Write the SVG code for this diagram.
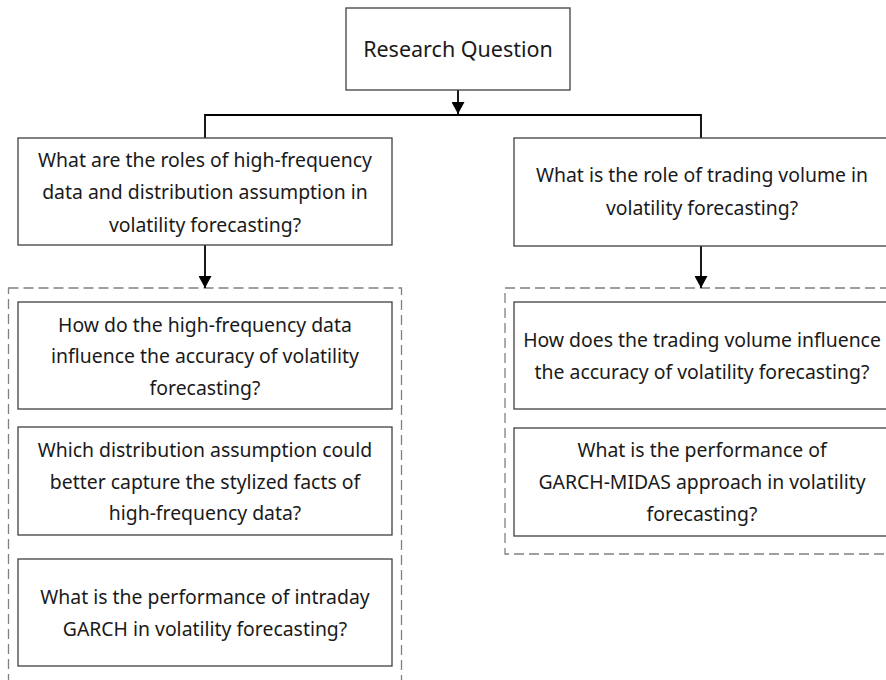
<svg xmlns="http://www.w3.org/2000/svg" width="886" height="680" viewBox="0 0 886 680">
  <style>
    .box { fill: #ffffff; stroke: #404040; stroke-width: 1.3; }
    .group { fill: none; stroke: #808080; stroke-width: 1.3; stroke-dasharray: 10 5; }
    .link { fill: none; stroke: #000000; stroke-width: 1.8; }
    .t { font-family: "Noto Sans", "Open Sans", "DejaVu Sans", sans-serif; font-size: 19.4px; fill: #1a1a1a; text-anchor: middle; }
    .title { font-size: 21.5px; }
  </style>
  <defs>
    <marker id="arrow" viewBox="0 0 12 13" refX="12" refY="6.5" markerWidth="12" markerHeight="13" markerUnits="userSpaceOnUse" orient="auto">
      <path d="M0,0 L12,6.5 L0,13 Z" fill="#000000"/>
    </marker>
  </defs>
  <rect width="886" height="680" fill="#ffffff"/>

  <!-- dashed groupings -->
  <g id="group-left">
    <rect class="group" x="8.5" y="288" width="393" height="420"/>
  </g>
  <g id="group-right">
    <rect class="group" x="505" y="288" width="394" height="266"/>
  </g>

  <!-- connectors -->
  <g id="connectors">
    <path class="link" d="M205,138 V115 H701 V138"/>
    <line class="link" x1="458" y1="90" x2="458" y2="114" marker-end="url(#arrow)"/>
    <line class="link" x1="205" y1="245" x2="205" y2="288" marker-end="url(#arrow)"/>
    <line class="link" x1="701" y1="246" x2="701" y2="288" marker-end="url(#arrow)"/>
  </g>

  <g id="research-question">
    <rect class="box" x="346" y="8" width="224" height="82"/>
    <text class="t title" x="458" y="57">Research Question</text>
  </g>

  <g id="q-hf-distribution">
    <rect class="box" x="18" y="138" width="374" height="107"/>
    <text class="t" x="205" y="166.5">What are the roles of high-frequency</text>
    <text class="t" x="205" y="199">data and distribution assumption in</text>
    <text class="t" x="205" y="231.5">volatility forecasting?</text>
  </g>

  <g id="q-trading-volume">
    <rect class="box" x="514" y="138" width="374" height="108"/>
    <text class="t" x="702" y="181.5">What is the role of trading volume in</text>
    <text class="t" x="702" y="214.5">volatility forecasting?</text>
  </g>

  <g id="q-hf-accuracy">
    <rect class="box" x="18" y="302" width="374" height="107"/>
    <text class="t" x="205" y="331.5">How do the high-frequency data</text>
    <text class="t" x="205" y="363">influence the accuracy of volatility</text>
    <text class="t" x="205" y="395">forecasting?</text>
  </g>

  <g id="q-distribution">
    <rect class="box" x="18" y="427" width="374" height="108"/>
    <text class="t" x="205" y="456.5">Which distribution assumption could</text>
    <text class="t" x="205" y="488.5">better capture the stylized facts of</text>
    <text class="t" x="205" y="520">high-frequency data?</text>
  </g>

  <g id="q-intraday-garch">
    <rect class="box" x="18" y="559" width="374" height="107"/>
    <text class="t" x="205" y="603.5">What is the performance of intraday</text>
    <text class="t" x="205" y="636">GARCH in volatility forecasting?</text>
  </g>

  <g id="q-volume-accuracy">
    <rect class="box" x="514" y="302" width="374" height="107"/>
    <text class="t" x="702" y="346.5">How does the trading volume influence</text>
    <text class="t" x="702" y="379">the accuracy of volatility forecasting?</text>
  </g>

  <g id="q-garch-midas">
    <rect class="box" x="514" y="428" width="374" height="108"/>
    <text class="t" x="702" y="456.5">What is the performance of</text>
    <text class="t" x="702" y="489">GARCH-MIDAS approach in volatility</text>
    <text class="t" x="702" y="520.5">forecasting?</text>
  </g>
</svg>
